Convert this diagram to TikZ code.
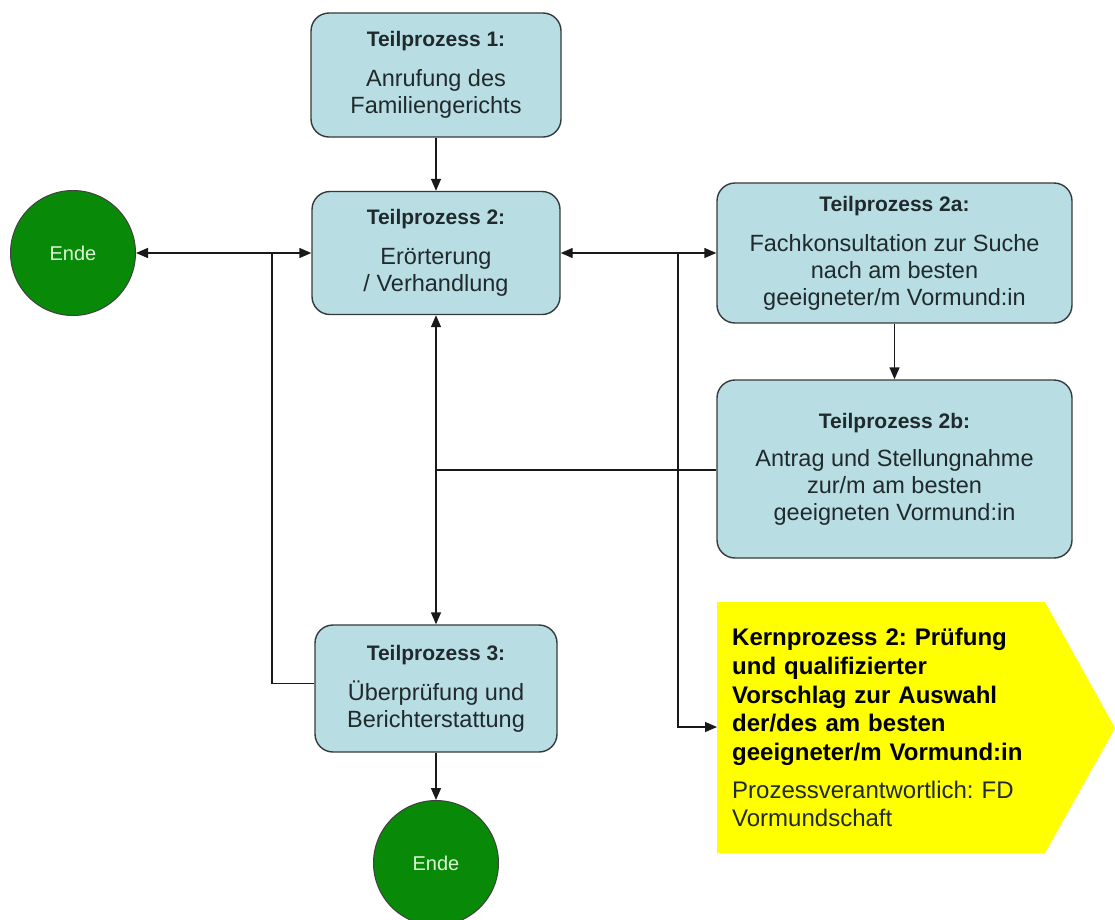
\documentclass[tikz,border=0pt]{standalone}
\usepackage{fontspec}
\setmainfont{Liberation Sans}
\usetikzlibrary{arrows.meta}
\definecolor{boxfill}{HTML}{B8DEE3}
\definecolor{boxline}{HTML}{343A3B}
\definecolor{txt}{HTML}{202A2C}
\definecolor{endfill}{HTML}{088A08}
\definecolor{endtxt}{HTML}{DDF7D5}
\definecolor{kernfill}{HTML}{FFFF00}
\newcommand\tptitle[1]{{\fontsize{21}{27}\selectfont\bfseries #1}}
\frenchspacing
\begin{document}
\begin{tikzpicture}[x=1pt,y=-1pt,
  proc/.style={draw=boxline, line width=1.4pt, fill=boxfill, rounded corners=18pt,
    align=center, text=txt, font=\fontsize{23.5}{27}\selectfont, inner sep=0pt},
  endnode/.style={circle, draw=black!75, line width=1pt, fill=endfill, text=endtxt,
    font=\fontsize{20}{24}\selectfont, minimum size=125pt, inner sep=0pt},
  conn/.style={line width=1.4pt, draw=black!90},
  tip/.style={-{Triangle[length=12pt,width=10pt]}},
  both/.style={{Triangle[length=12pt,width=10pt]}-{Triangle[length=12pt,width=10pt]}}]
\useasboundingbox (0,0) rectangle (1115,919);

% yellow core-process shape
\fill[kernfill] (717,602) -- (1045,602) -- (1115,728) -- (1045,853) -- (717,853) -- cycle;
\node[anchor=north west, inner sep=0pt, align=left, text width=330pt, text=black,
  font=\fontsize{24}{28.7}\selectfont] (kern) at (732,628)
  {{\bfseries Kernprozess 2: Prüfung\\ und qualifizierter\\ Vorschlag zur Auswahl\\ der/des am besten\\ geeigneter/m Vormund:in}\\[9pt]
   {\color{txt}Prozessverantwortlich: FD\\ Vormundschaft}};
\coordinate (kin) at (717,727);

% process boxes
\node[proc, minimum width=250pt, minimum height=124pt] (tp1) at (436,75)
  {\tptitle{Teilprozess 1:}\\[13pt]Anrufung des\\Familiengerichts};
\node[proc, minimum width=248pt, minimum height=123pt] (tp2) at (436,253)
  {\tptitle{Teilprozess 2:}\\[13pt]Erörterung\\/ Verhandlung};
\node[proc, minimum width=355pt, minimum height=140pt] (tp2a) at (894.5,253)
  {\tptitle{Teilprozess 2a:}\\[13pt]Fachkonsultation zur Suche\\nach am besten\\geeigneter/m Vormund:in};
\node[proc, minimum width=355pt, minimum height=178pt] (tp2b) at (894.5,469)
  {\tptitle{Teilprozess 2b:}\\[11pt]Antrag und Stellungnahme\\zur/m am besten\\geeigneten Vormund:in};
\node[proc, minimum width=242pt, minimum height=127pt] (tp3) at (436,688.5)
  {\tptitle{Teilprozess 3:}\\[13pt]Überprüfung und\\Berichterstattung};

% end nodes
\node[endnode] (endL) at (73,253) {Ende};
\node[endnode] (endB) at (436,863) {Ende};

% connectors
\draw[conn, tip] (tp1.south) -- (tp2.north);
\draw[conn, both] (endL.east) -- (tp2.west);
\coordinate (jL) at (272,253);
\draw[conn] ([yshift=5pt]tp3.west) -| (jL);
\draw[conn, both] (tp2.east) -- (tp2a.west);
\coordinate (jR) at (678,253);
\draw[conn, tip] (jR) |- (kin);
\draw[conn, tip] (tp2a.south) -- (tp2b.north);
\draw[conn, both] (tp2.south) -- (tp3.north);
\coordinate (jM) at (436,470);
\draw[conn] (tp2b.west |- jM) -- (jM);
\draw[conn, tip] (tp3.south) -- (endB.north);
\end{tikzpicture}
\end{document}
